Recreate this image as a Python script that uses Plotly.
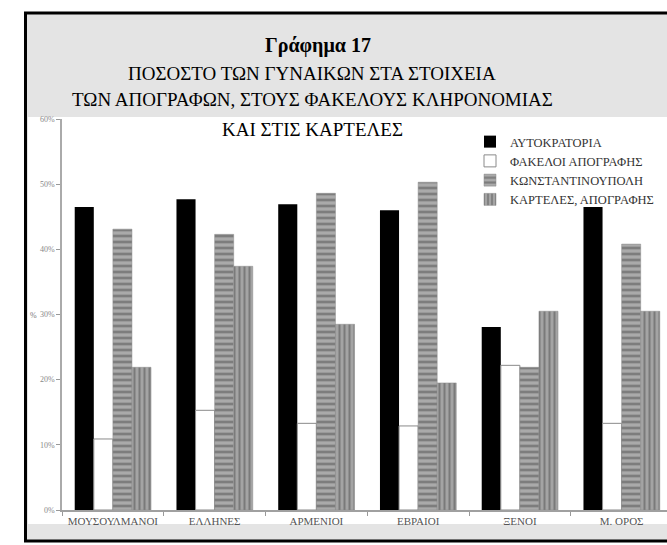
import plotly.graph_objects as go

# ---------------- data ----------------
categories = ["ΜΟΥΣΟΥΛΜΑΝΟΙ", "ΕΛΛΗΝΕΣ", "ΑΡΜΕΝΙΟΙ", "ΕΒΡΑΙΟΙ", "ΞΕΝΟΙ", "Μ. ΟΡΟΣ"]
series_names = ["ΑΥΤΟΚΡΑΤΟΡΙΑ", "ΦΑΚΕΛΟΙ ΑΠΟΓΡΑΦΗΣ", "ΚΩΝΣΤΑΝΤΙΝΟΥΠΟΛΗ", "ΚΑΡΤΕΛΕΣ, ΑΠΟΓΡΑΦΗΣ"]
autokratoria = [46.5, 47.7, 46.9, 46.0, 28.1, 46.5]
fakeloi_apografis = [10.9, 15.3, 13.3, 12.9, 22.2, 13.3]
konstantinoupoli = [43.1, 42.3, 48.6, 50.3, 21.9, 40.8]
karteles_apografis = [21.9, 37.4, 28.5, 19.5, 30.5, 30.5]
y_tick_values = [0, 10, 20, 30, 40, 50, 60]
y_tick_labels = ["0%", "10%", "20%", "30%", "40%", "50%", "60%"]
title_lines = ["<b>Γράφημα 17</b>",
               "ΠΟΣΟΣΤΟ ΤΩΝ ΓΥΝΑΙΚΩΝ ΣΤΑ ΣΤΟΙΧΕΙΑ",
               "ΤΩΝ ΑΠΟΓΡΑΦΩΝ, ΣΤΟΥΣ ΦΑΚΕΛΟΥΣ ΚΛΗΡΟΝΟΜΙΑΣ",
               "ΚΑΙ ΣΤΙΣ ΚΑΡΤΕΛΕΣ"]

W, H = 667, 545
ML, MR, MT, MB = 62, 0, 119, 35
PW, PH = W - ML - MR, H - MT - MB
SERIF = "Liberation Serif, Times New Roman, serif"


def px(x):
    return (x - ML) / PW


def py(y):
    return (H - MB - y) / PH


fig = go.Figure()
fig.add_trace(go.Bar(name=series_names[0], x=categories, y=autokratoria,
                     marker=dict(color="black", line=dict(width=0))))
fig.add_trace(go.Bar(name=series_names[1], x=categories, y=fakeloi_apografis,
                     marker=dict(color="white", line=dict(color="#8a8a8a", width=1))))
fig.add_trace(go.Bar(name=series_names[2], x=categories, y=konstantinoupoli,
                     marker=dict(color="#a8a8a8",
                                 pattern=dict(shape="-", fgcolor="#4f4f4f", bgcolor="#aaaaaa",
                                              size=6, solidity=0.45),
                                 line=dict(color="#8a8a8a", width=0.5))))
fig.add_trace(go.Bar(name=series_names[3], x=categories, y=karteles_apografis,
                     marker=dict(color="#a0a0a0",
                                 pattern=dict(shape="|", fgcolor="#505050", bgcolor="#a4a4a4",
                                              size=5, solidity=0.4),
                                 line=dict(color="#8a8a8a", width=0.5))))

shapes = [
    # grey frame background
    dict(type="rect", xref="paper", yref="paper", x0=px(26), x1=px(690), y0=py(13), y1=py(541),
         fillcolor="#e4e4e4", line=dict(width=0), layer="below"),
    # white chart area
    dict(type="rect", xref="paper", yref="paper", x0=px(28), x1=px(690), y0=py(117), y1=py(524),
         fillcolor="white", line=dict(width=0), layer="below"),
    # black border
    dict(type="rect", xref="paper", yref="paper", x0=px(25.5), x1=px(700), y0=py(13), y1=py(541),
         fillcolor="rgba(0,0,0,0)", line=dict(color="black", width=3), layer="above"),
]

title_y = [45, 73, 100, 129]
title_x = [318, 312, 312, 312]
title_size = [20, 19, 19, 19]
annotations = []
for t, xx, yy, sz in zip(title_lines, title_x, title_y, title_size):
    annotations.append(dict(text=t, xref="paper", yref="paper", x=px(xx), y=py(yy),
                            xanchor="center", yanchor="middle", showarrow=False,
                            font=dict(family=SERIF, size=sz, color="black")))
annotations.append(dict(text="%", xref="paper", yref="paper", x=px(33), y=py(315),
                        xanchor="center", yanchor="middle", showarrow=False,
                        font=dict(family=SERIF, size=8, color="#777")))

fig.update_layout(
    width=W, height=H, autosize=False,
    margin=dict(l=ML, r=MR, t=MT, b=MB, pad=0),
    paper_bgcolor="white", plot_bgcolor="white",
    barmode="group", bargap=0.25, bargroupgap=0,
    shapes=shapes, annotations=annotations,
    showlegend=True,
    legend=dict(x=px(470), y=py(127), xanchor="left", yanchor="top",
                bgcolor="rgba(0,0,0,0)", font=dict(family=SERIF, size=12.5, color="#333"),
                itemwidth=30, tracegroupgap=0, traceorder="normal"),
    xaxis=dict(type="category", range=[-0.5, -0.5 + PW / 101.75],
               showline=True, linecolor="#a0a0a0", linewidth=1.5,
               ticks="outside", tickson="boundaries", ticklen=4, tickcolor="#999",
               tickfont=dict(family=SERIF, size=11, color="#555"), showgrid=False),
    yaxis=dict(range=[0, 60], tickvals=y_tick_values, ticktext=y_tick_labels,
               showline=True, linecolor="#aaaaaa", linewidth=1.5,
               ticks="outside", ticklen=4, tickcolor="#999",
               tickfont=dict(family=SERIF, size=8, color="#888"),
               showgrid=False, zeroline=False),
)

fig.write_html("out.html", config={"displayModeBar": False},
               post_script="document.body.style.margin='0px';document.body.style.overflow='hidden';")
